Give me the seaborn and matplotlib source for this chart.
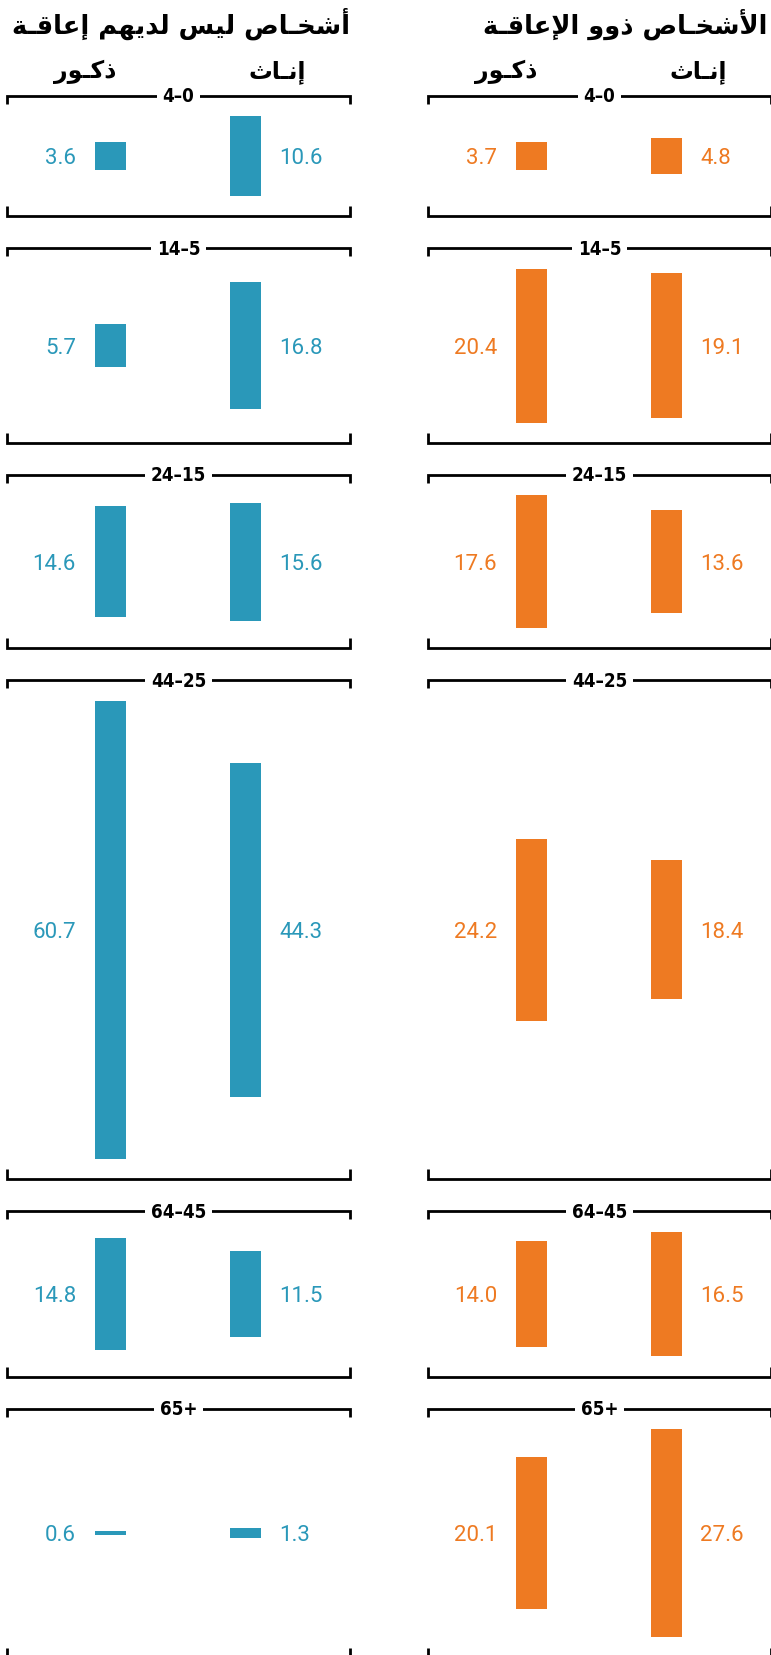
import matplotlib
matplotlib.use("Agg")
import matplotlib.pyplot as plt
import seaborn as sns

# ---------------- data ----------------
age_labels = ["4–0", "14–5", "24–15", "44–25", "64–45", "65+"]
nodis_male = [3.6, 5.7, 14.6, 60.7, 14.8, 0.6]
nodis_female = [10.6, 16.8, 15.6, 44.3, 11.5, 1.3]
dis_male = [3.7, 20.4, 17.6, 24.2, 14.0, 20.1]
dis_female = [4.8, 19.1, 13.6, 18.4, 16.5, 27.6]
titles = ["أشخـاص ليس لديهم إعاقـة", "الأشخـاص ذوو الإعاقـة"]
sex_labels = ["ذكـور", "إنـاث"]
colors = ["#2A98B9", "#EE7A22"]

# ---------------- Arabic shaping (matplotlib has no complex text layout) ----------------
FORMS = {
    '\u0627': ('\uFE8D', '\uFE8E', None, None),
    '\u0623': ('\uFE83', '\uFE84', None, None),
    '\u0625': ('\uFE87', '\uFE88', None, None),
    '\u0622': ('\uFE81', '\uFE82', None, None),
    '\u0628': ('\uFE8F', '\uFE90', '\uFE91', '\uFE92'),
    '\u0629': ('\uFE93', '\uFE94', None, None),
    '\u062A': ('\uFE95', '\uFE96', '\uFE97', '\uFE98'),
    '\u062B': ('\uFE99', '\uFE9A', '\uFE9B', '\uFE9C'),
    '\u062E': ('\uFEA5', '\uFEA6', '\uFEA7', '\uFEA8'),
    '\u062F': ('\uFEA9', '\uFEAA', None, None),
    '\u0630': ('\uFEAB', '\uFEAC', None, None),
    '\u0631': ('\uFEAD', '\uFEAE', None, None),
    '\u0633': ('\uFEB1', '\uFEB2', '\uFEB3', '\uFEB4'),
    '\u0634': ('\uFEB5', '\uFEB6', '\uFEB7', '\uFEB8'),
    '\u0635': ('\uFEB9', '\uFEBA', '\uFEBB', '\uFEBC'),
    '\u0639': ('\uFEC9', '\uFECA', '\uFECB', '\uFECC'),
    '\u0642': ('\uFED5', '\uFED6', '\uFED7', '\uFED8'),
    '\u0643': ('\uFED9', '\uFEDA', '\uFEDB', '\uFEDC'),
    '\u0644': ('\uFEDD', '\uFEDE', '\uFEDF', '\uFEE0'),
    '\u0645': ('\uFEE1', '\uFEE2', '\uFEE3', '\uFEE4'),
    '\u0646': ('\uFEE5', '\uFEE6', '\uFEE7', '\uFEE8'),
    '\u0647': ('\uFEE9', '\uFEEA', '\uFEEB', '\uFEEC'),
    '\u0648': ('\uFEED', '\uFEEE', None, None),
    '\u064A': ('\uFEF1', '\uFEF2', '\uFEF3', '\uFEF4'),
}
LAM_ALEF = {'\u0627': ('\uFEFB', '\uFEFC'), '\u0623': ('\uFEF7', '\uFEF8'),
            '\u0625': ('\uFEF9', '\uFEFA'), '\u0622': ('\uFEF5', '\uFEF6')}
TATWEEL = '\u0640'


def _dual(c):
    return c == TATWEEL or (c in FORMS and FORMS[c][2] is not None)


def _joins(c):
    return c == TATWEEL or c in FORMS


def shape(text):
    units = []
    i = 0
    while i < len(text):
        c = text[i]
        if c == '\u0644' and i + 1 < len(text) and text[i + 1] in LAM_ALEF:
            units.append(('LA', text[i + 1]))
            i += 2
        else:
            units.append(('C', c))
            i += 1

    def next_ok(u):
        return u is not None and u[0] == 'C' and _dual(u[1])

    def prev_ok(u):
        return u is not None and (u[0] == 'LA' or _joins(u[1]))

    out = []
    for j, (kind, c) in enumerate(units):
        prev = units[j - 1] if j > 0 else None
        nxt = units[j + 1] if j + 1 < len(units) else None
        jp = next_ok(prev)
        if kind == 'LA':
            out.append(LAM_ALEF[c][1] if jp else LAM_ALEF[c][0])
            continue
        if c == TATWEEL or c not in FORMS:
            out.append(c)
            continue
        jp = jp and _joins(c)
        jn = _dual(c) and prev_ok(nxt)
        iso, fin, ini, med = FORMS[c]
        if jp and jn:
            out.append(med)
        elif jp:
            out.append(fin)
        elif jn:
            out.append(ini)
        else:
            out.append(iso)
    return ''.join(reversed(out))


# ---------------- style ----------------
sns.set_theme(style="white")
plt.rcParams['font.family'] = ['DejaVu Sans']

W, H = 771, 1656
PX = 7.555            # pixels per percentage point
fig = plt.figure(figsize=(W / 100, H / 100), dpi=100)
ax = fig.add_axes([0, 0, 1, 1])
ax.set_xlim(0, W)
ax.set_ylim(H / PX, 0)
ax.axis('off')

col_x0 = [7.3, 428.3]
col_w = 342.5
male_dx, female_dx = 103.2, 238.0
bar_w = 30.5
pad = 40.5 / PX
sep = 32.0 / PX
tick_top = 8.0 / PX
tick_bot = 10.0 / PX
lw = 2.0

columns = [(nodis_male, nodis_female), (dis_male, dis_female)]

# titles and sex headers
for ci, x0 in enumerate(col_x0):
    ax.text(x0 + col_w - (0 if ci == 0 else 3), 24 / PX, shape(titles[ci]),
            ha='right', va='center', fontsize=18.5, fontweight='bold', color='black')
    ax.text(x0 + 78, 72 / PX, shape(sex_labels[0]), ha='center', va='center',
            fontsize=17, fontweight='bold', color='black')
    ax.text(x0 + 270, 72 / PX, shape(sex_labels[1]), ha='center', va='center',
            fontsize=17, fontweight='bold', color='black')

top = 96.7 / PX
for ri, age in enumerate(age_labels):
    m = max(nodis_male[ri], nodis_female[ri], dis_male[ri], dis_female[ri])
    gap = m + pad
    center = top + gap / 2
    bot = top + gap
    for ci, x0 in enumerate(col_x0):
        mv, fv = columns[ci][0][ri], columns[ci][1][ri]
        col = colors[ci]
        # brackets
        ax.plot([x0, x0, x0 + col_w, x0 + col_w],
                [top + tick_top, top, top, top + tick_top],
                color='black', lw=lw, solid_joinstyle='miter', solid_capstyle='butt', zorder=2)
        ax.plot([x0, x0, x0 + col_w, x0 + col_w],
                [bot - tick_bot, bot, bot, bot - tick_bot],
                color='black', lw=lw, solid_joinstyle='miter', solid_capstyle='butt', zorder=2)
        ax.text(x0 + col_w / 2, top, age, ha='center', va='center',
                fontsize=13.5, fontweight='bold', fontstretch='condensed', color='black',
                bbox=dict(boxstyle='square,pad=0.3', fc='white', ec='none'), zorder=3)
        # bars
        ax.bar([x0 + male_dx], [mv], width=bar_w, bottom=center - mv / 2,
               color=col, edgecolor='none', zorder=2)
        ax.bar([x0 + female_dx], [fv], width=bar_w, bottom=center - fv / 2,
               color=col, edgecolor='none', zorder=2)
        # value labels
        ax.text(x0 + 68.7, center + 0.2, f"{mv:.1f}", ha='right', va='center',
                fontsize=16, family='Roboto', fontweight='normal', color=col)
        ax.text(x0 + 272.0, center + 0.2, f"{fv:.1f}", ha='left', va='center',
                fontsize=16, family='Roboto', fontweight='normal', color=col)
    top = bot + sep

fig.savefig("out.png", dpi=100)
